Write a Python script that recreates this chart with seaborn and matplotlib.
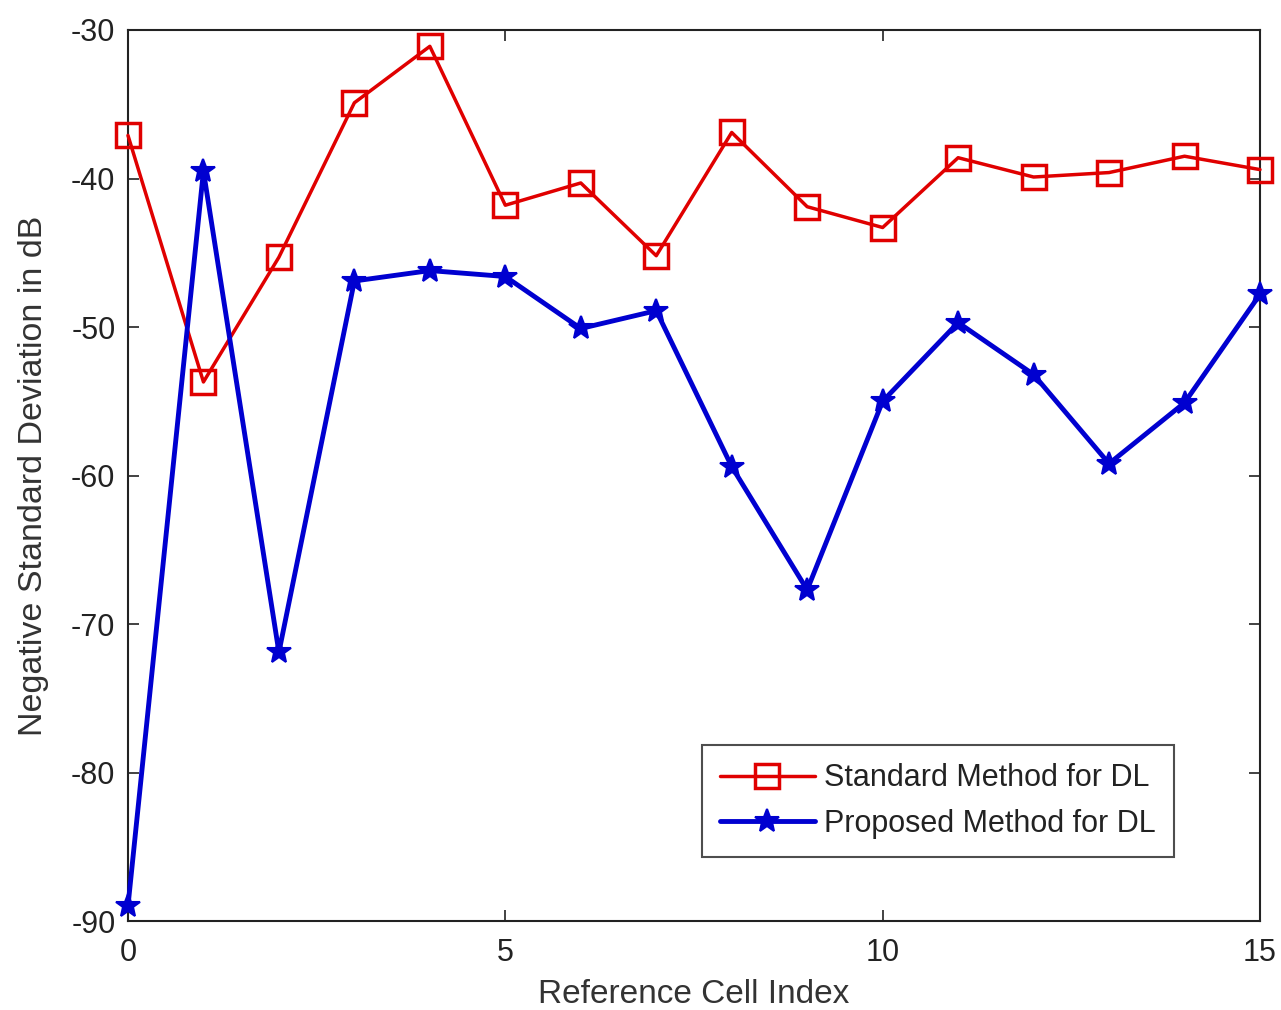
import numpy as np
import pandas as pd
import matplotlib
matplotlib.use("Agg")
import matplotlib.pyplot as plt
import seaborn as sns

cell_index = list(range(16))
standard_dl = [-37.1, -53.7, -45.3, -34.9, -31.1, -41.8, -40.3, -45.2,
               -36.9, -41.9, -43.3, -38.6, -39.9, -39.6, -38.5, -39.4]
proposed_dl = [-89.0, -39.5, -71.9, -46.9, -46.2, -46.6, -50.1, -48.9,
               -59.4, -67.7, -55.0, -49.7, -53.2, -59.2, -55.1, -47.8]
series_names = ["Standard Method for DL", "Proposed Method for DL"]
x_ticks = [0, 5, 10, 15]
y_ticks = [-30, -40, -50, -60, -70, -80, -90]

df = pd.DataFrame({
    "x": cell_index * 2,
    "y": standard_dl + proposed_dl,
    "method": [series_names[0]] * 16 + [series_names[1]] * 16,
})

sns.set_theme(style="white")
plt.rcParams['font.family'] = ['Liberation Sans', 'DejaVu Sans']
plt.rcParams['axes.unicode_minus'] = False

fig = plt.figure(figsize=(12.81, 10.10), dpi=100)
ax = fig.add_axes([0.0999, 0.0881, 0.8837, 0.8822])

sns.lineplot(data=df[df.method == series_names[0]], x="x", y="y", ax=ax,
             color="#e00000", linewidth=2.5, marker="s", markersize=17,
             markerfacecolor="none", markeredgecolor="#e00000", markeredgewidth=2.5,
             label=series_names[0], clip_on=False, zorder=3)
sns.lineplot(data=df[df.method == series_names[1]], x="x", y="y", ax=ax,
             color="#0000d0", linewidth=3.5, marker="*", markersize=18,
             markerfacecolor="#0000d0", markeredgecolor="#0000d0", markeredgewidth=1.5,
             label=series_names[1], clip_on=False, zorder=3)

ax.set_xlim(0, 15)
ax.set_ylim(-90, -30)
ax.set_xticks(x_ticks)
ax.set_yticks(y_ticks)
ax.tick_params(direction="in", length=8, width=1.2, labelsize=22, colors="#222222",
               top=True, right=True, bottom=True, left=True)
ax.tick_params(axis="x", pad=12)
ax.tick_params(axis="y", pad=9)
for s in ax.spines.values():
    s.set_color("#222222")
    s.set_linewidth(1.5)
    s.set_visible(True)
ax.set_facecolor("white")
ax.set_xlabel("Reference Cell Index", fontsize=24, color="#333333", labelpad=8)
ax.set_ylabel("Negative Standard Deviation in dB", fontsize=24.5, color="#333333", labelpad=16)

leg = ax.legend(loc="lower right", bbox_to_anchor=(0.924, 0.072), fontsize=22,
                frameon=True, fancybox=False, edgecolor="#222222", handlelength=3.1,
                handletextpad=0.3, borderpad=0.6, labelspacing=0.5, borderaxespad=0)
leg.get_frame().set_linewidth(1.5)
for t in leg.get_texts():
    t.set_color("#222222")

fig.savefig("out.png", dpi=100, facecolor="white")
